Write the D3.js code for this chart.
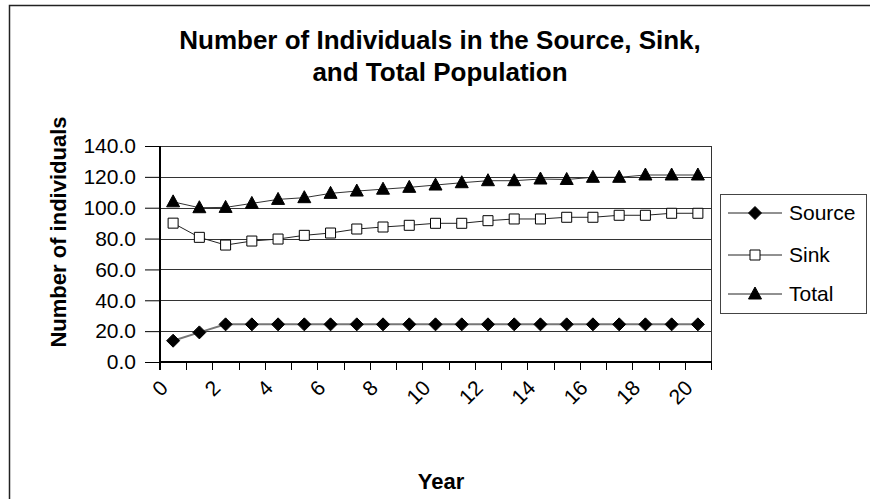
<!DOCTYPE html>
<html>
<head>
<meta charset="utf-8">
<script src="https://cdn.jsdelivr.net/npm/d3@7"></script>
<style>
  body { margin: 0; background: #fff; }
  text { font-family: Arial, "Liberation Sans", sans-serif; fill: #000; }
</style>
</head>
<body>
<svg id="chart" width="870" height="499"></svg>
<script>
// data
var years = d3.range(0, 21);
var source = [13.8, 19.2, 24.4, 24.4, 24.4, 24.4, 24.4, 24.4, 24.4, 24.4, 24.4,
              24.4, 24.4, 24.4, 24.4, 24.4, 24.4, 24.4, 24.4, 24.4, 24.4];
var sink = [90.0, 80.8, 75.8, 78.4, 79.7, 82.1, 83.6, 86.2, 87.5, 88.6, 89.9,
            89.9, 91.6, 92.7, 92.7, 93.8, 93.8, 95.1, 95.1, 96.4, 96.4];
var total = [103.8, 100.0, 100.2, 102.8, 105.4, 106.5, 109.3, 110.8, 112.0, 113.2, 114.7,
             116.2, 117.5, 117.5, 118.6, 118.3, 119.7, 119.7, 121.2, 121.2, 121.2];
var yTicks = [0, 20, 40, 60, 80, 100, 120, 140];
var xLabels = [0, 2, 4, 6, 8, 10, 12, 14, 16, 18, 20];

var svg = d3.select("#chart");

// outer chart border (runs off right / bottom)
svg.append("rect")
    .attr("x", 9.5).attr("y", 5.5)
    .attr("width", 900).attr("height", 600)
    .attr("fill", "none").attr("stroke", "#222").attr("stroke-width", 1.5);

var x = d3.scaleBand().domain(years).range([160, 711]);
var y = d3.scaleLinear().domain([0, 140]).range([362, 146]);
var cx = function(i) { return x(i) + x.bandwidth() / 2; };

// gridlines
svg.append("g").selectAll("line")
    .data(yTicks.filter(function(d) { return d > 0; }))
  .enter().append("line")
    .attr("x1", 160).attr("x2", 711)
    .attr("y1", function(d) { return Math.round(y(d)) + 0.5; })
    .attr("y2", function(d) { return Math.round(y(d)) + 0.5; })
    .attr("stroke", "#333").attr("stroke-width", 1);

// right edge of plot
svg.append("line")
    .attr("x1", 711.5).attr("x2", 711.5)
    .attr("y1", y(140)).attr("y2", y(0))
    .attr("stroke", "#333");

// y axis
var yAxis = svg.append("g")
    .attr("transform", "translate(160,0)")
    .call(d3.axisLeft(y).tickValues(yTicks).tickSize(15).tickPadding(9)
          .tickFormat(d3.format(".1f")));
yAxis.selectAll("text").style("font-size", "21px").attr("font-family", null);
yAxis.selectAll("line").attr("stroke", "#000");
yAxis.select(".domain").attr("stroke", "#000").attr("stroke-width", 2)
    .attr("d", "M0," + y(140) + "V" + (y(0) + 8));

// x axis: ticks at category boundaries
var xa = svg.append("g");
xa.append("line")
    .attr("x1", 159).attr("x2", 712)
    .attr("y1", y(0)).attr("y2", y(0))
    .attr("stroke", "#000").attr("stroke-width", 2);
xa.selectAll("line.tick")
    .data(d3.range(0, 22))
  .enter().append("line")
    .attr("class", "tick")
    .attr("x1", function(i) { return Math.round(160 + i * x.step()) + 0.5; })
    .attr("x2", function(i) { return Math.round(160 + i * x.step()) + 0.5; })
    .attr("y1", y(0)).attr("y2", y(0) + 8)
    .attr("stroke", "#000");
xa.selectAll("text")
    .data(xLabels)
  .enter().append("text")
    .attr("transform", function(d) {
      return "translate(" + (cx(d) - 9) + ",384) rotate(-45)";
    })
    .attr("text-anchor", "end")
    .attr("dy", "0.35em")
    .style("font-size", "21px")
    .text(function(d) { return d; });

// series
var line = d3.line()
    .x(function(d, i) { return cx(i); })
    .y(function(d) { return y(d); });

var diamond = "M0,-6.5L6.5,0L0,6.5L-6.5,0Z";
var square = "M-5,-5H5V5H-5Z";
var triangle = "M0,-7L6.5,5L-6.5,5Z";

var series = [
  { name: "Source", values: source, shape: diamond, fill: "#000", stroke: "#777", sw: 2 },
  { name: "Sink", values: sink, shape: square, fill: "#fff", stroke: "#222", sw: 1 },
  { name: "Total", values: total, shape: triangle, fill: "#000", stroke: "#333", sw: 1 }
];

series.forEach(function(s) {
  svg.append("path")
      .datum(s.values)
      .attr("d", line)
      .attr("fill", "none")
      .attr("stroke", s.stroke)
      .attr("stroke-width", s.sw);
  svg.append("g").selectAll("path")
      .data(s.values)
    .enter().append("path")
      .attr("transform", function(d, i) { return "translate(" + cx(i) + "," + y(d) + ")"; })
      .attr("d", s.shape)
      .attr("fill", s.fill)
      .attr("stroke", "#000")
      .attr("stroke-width", 1);
});

// legend
var lg = svg.append("g");
lg.append("rect")
    .attr("x", 720.5).attr("y", 194.5)
    .attr("width", 146).attr("height", 119)
    .attr("fill", "#fff").attr("stroke", "#444");
var legY = [213, 255, 294];
series.forEach(function(s, i) {
  lg.append("line")
      .attr("x1", 728).attr("x2", 782)
      .attr("y1", legY[i]).attr("y2", legY[i])
      .attr("stroke", "#222").attr("stroke-width", 1);
  lg.append("path")
      .attr("transform", "translate(755," + legY[i] + ")")
      .attr("d", s.shape)
      .attr("fill", s.fill).attr("stroke", "#000");
  lg.append("text")
      .attr("x", 789).attr("y", legY[i])
      .attr("dy", "0.35em")
      .style("font-size", "21px")
      .text(s.name);
});

// titles
var title = svg.append("text")
    .attr("x", 440).attr("y", 49)
    .attr("text-anchor", "middle")
    .style("font-size", "26px").style("font-weight", "bold");
title.append("tspan").attr("x", 440).text("Number of Individuals in the Source, Sink,");
title.append("tspan").attr("x", 440).attr("dy", 32).text("and Total Population");

svg.append("text")
    .attr("x", 441).attr("y", 489)
    .attr("text-anchor", "middle")
    .style("font-size", "22px").style("font-weight", "bold")
    .text("Year");

svg.append("text")
    .attr("transform", "translate(66,232) rotate(-90)")
    .attr("text-anchor", "middle")
    .style("font-size", "22px").style("font-weight", "bold")
    .text("Number of individuals");
</script>
</body>
</html>
